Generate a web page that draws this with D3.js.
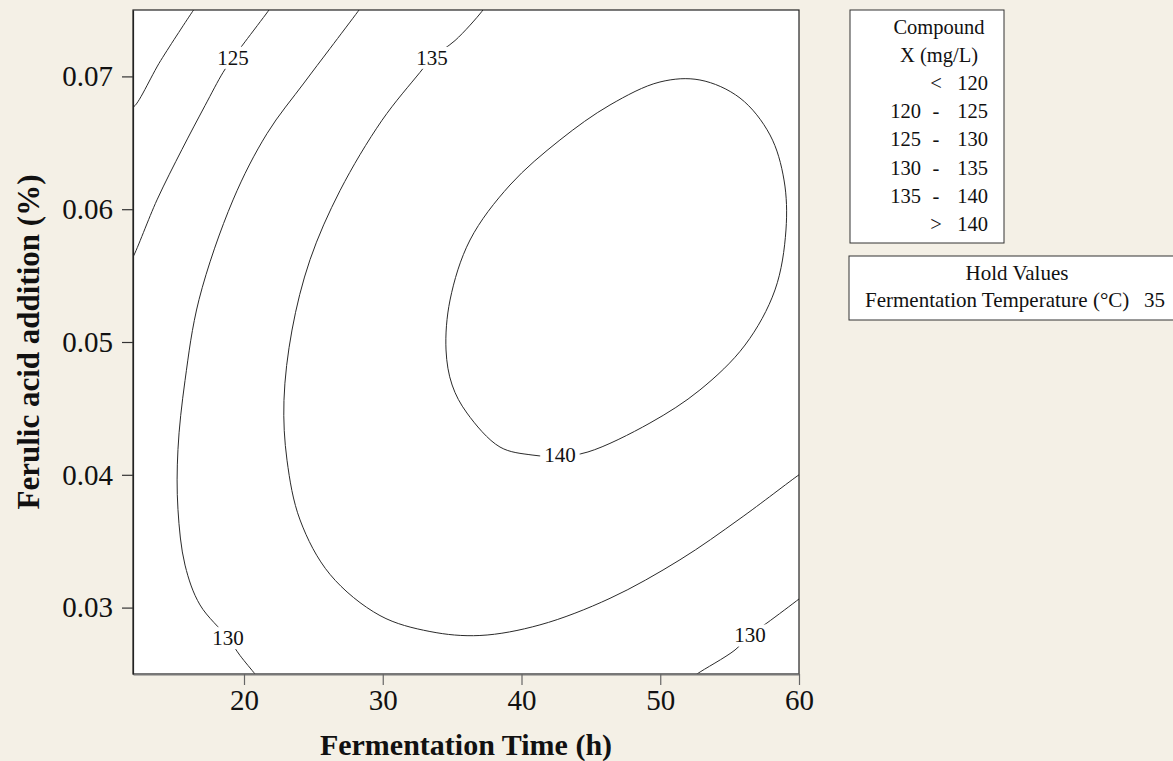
<!DOCTYPE html>
<html>
<head>
<meta charset="utf-8">
<script src="https://cdn.jsdelivr.net/npm/d3@7"></script>
<style>
  html, body { margin: 0; padding: 0; background: #f4f0e6; }
  svg { display: block; }
  text { font-family: "Liberation Serif", "Times New Roman", serif; fill: #111; }
</style>
</head>
<body>
<svg id="chart" width="1173" height="761"></svg>
<script>
// Axis ranges and ticks
const xDomain = [12, 60];
const yDomain = [0.025, 0.075];
const xTicks = [20, 30, 40, 50, 60];
const yTicks = [0.03, 0.04, 0.05, 0.06, 0.07];
const xTitle = "Fermentation Time (h)";
const yTitle = "Ferulic acid addition (%)";

// Contour lines of Compound X (mg/L): [time (h), ferulic acid (%)]
const contour120 = [[11.8, 0.0680], [12.0, 0.0677], [14.0, 0.0712], [16.3, 0.0749], [16.5, 0.0752]];
const contour125 = [[11.8, 0.0561], [12.0, 0.0564], [13.73, 0.0607], [15.53, 0.0645], [17.19, 0.0678],
  [18.49, 0.0703], [19.21, 0.0714], [20.07, 0.0726], [21.73, 0.0749], [22.0, 0.0753]];
const contour130Left = [[28.5, 0.0753], [28.22, 0.0749], [26.2, 0.0721], [24.32, 0.0695], [21.66, 0.0657],
  [19.21, 0.0607], [16.76, 0.0532], [15.75, 0.0471], [15.24, 0.0419], [15.24, 0.0374], [15.75, 0.0332],
  [16.83, 0.0302], [18.85, 0.0277], [19.71, 0.0264], [20.79, 0.0250], [21.0, 0.0247]];
const contour135 = [[37.4, 0.0753], [37.15, 0.0749], [35.21, 0.0727], [33.55, 0.0714], [32.68, 0.0703],
  [29.95, 0.0667], [26.92, 0.0614], [24.76, 0.0562], [23.46, 0.0509], [22.88, 0.0456], [23.1, 0.0411],
  [24.04, 0.0366], [26.2, 0.0325], [29.8, 0.0294], [33.4, 0.0282], [37.0, 0.0279], [41.33, 0.0287],
  [46.38, 0.0307], [51.42, 0.0336], [55.75, 0.0367], [60.0, 0.0400], [60.3, 0.0402]];
const contour140 = [[44.79, 0.04172], [49.26, 0.0439], [52.86, 0.04639], [56.11, 0.04977], [58.27, 0.05392],
  [59.06, 0.05843], [58.92, 0.0622], [57.91, 0.06559], [55.75, 0.06837], [52.86, 0.06973], [49.98, 0.06958],
  [46.38, 0.06785], [42.77, 0.06521], [39.17, 0.06182], [36.29, 0.05768], [34.85, 0.05316], [34.56, 0.0494],
  [35.0, 0.04676], [36.07, 0.04465], [38.45, 0.04209], [40.76, 0.04149], [42.77, 0.0414]];
const contour130Right = [[60.3, 0.0309], [60.0, 0.03065], [57.69, 0.02884], [56.47, 0.02794], [55.39, 0.02681],
  [52.65, 0.0250], [52.3, 0.0247]];

// Inline contour labels
const contourLabels = [
  { text: "125", x: 19.21, y: 0.0714 },
  { text: "135", x: 33.55, y: 0.0714 },
  { text: "140", x: 42.77, y: 0.0415 },
  { text: "130", x: 18.85, y: 0.0277 },
  { text: "130", x: 56.47, y: 0.0279 }
];

// Legend contents
const legendTitle = ["Compound", "X (mg/L)"];
const legendLow = ["", "120", "125", "130", "135", ""];
const legendSym = ["<", "-", "-", "-", "-", ">"];
const legendHigh = ["120", "125", "130", "135", "140", "140"];
const holdTitle = "Hold Values";
const holdName = "Fermentation Temperature (°C)";
const holdValue = "35";

const serif = '"Liberation Serif", "Times New Roman", serif';
const svg = d3.select("#chart");
const plot = { left: 133, right: 799, top: 10, bottom: 674 };

const x = d3.scaleLinear().domain(xDomain).range([plot.left, plot.right]);
const y = d3.scaleLinear().domain(yDomain).range([plot.bottom, plot.top]);

// Plot area
svg.append("rect")
  .attr("x", plot.left).attr("y", plot.top)
  .attr("width", plot.right - plot.left).attr("height", plot.bottom - plot.top)
  .attr("fill", "#fff");

svg.append("clipPath").attr("id", "plotClip")
  .append("rect")
  .attr("x", plot.left).attr("y", plot.top)
  .attr("width", plot.right - plot.left).attr("height", plot.bottom - plot.top);

const lines = svg.append("g").attr("clip-path", "url(#plotClip)");
const openLine = d3.line().x(d => x(d[0])).y(d => y(d[1])).curve(d3.curveCatmullRom.alpha(0.5));
const closedLine = d3.line().x(d => x(d[0])).y(d => y(d[1])).curve(d3.curveCatmullRomClosed.alpha(0.5));

[contour120, contour125, contour130Left, contour135, contour130Right].forEach(c => {
  lines.append("path").attr("d", openLine(c))
    .attr("fill", "none").attr("stroke", "#2a2a2a").attr("stroke-width", 1);
});
lines.append("path").attr("d", closedLine(contour140))
  .attr("fill", "none").attr("stroke", "#2a2a2a").attr("stroke-width", 1);

// Labels sit on a white patch that breaks the line
const labelG = svg.append("g");
contourLabels.forEach(l => {
  const g = labelG.append("g");
  const t = g.append("text")
    .attr("x", x(l.x)).attr("y", y(l.y))
    .attr("text-anchor", "middle").attr("dominant-baseline", "central")
    .style("font-family", serif).attr("font-size", 21).text(l.text);
  const bb = t.node().getBBox();
  g.insert("rect", "text")
    .attr("x", bb.x - 4).attr("y", bb.y + 1)
    .attr("width", bb.width + 8).attr("height", bb.height - 2)
    .attr("fill", "#fff");
});

// Frame
svg.append("rect")
  .attr("x", plot.left).attr("y", plot.top)
  .attr("width", plot.right - plot.left).attr("height", plot.bottom - plot.top)
  .attr("fill", "none").attr("stroke", "#222").attr("stroke-width", 1.2);

// X axis
const xAxis = svg.append("g").attr("transform", `translate(0,${plot.bottom})`)
  .call(d3.axisBottom(x).tickValues(xTicks).tickSizeInner(11).tickSizeOuter(0).tickPadding(4).tickFormat(d3.format("d")));
xAxis.attr("font-family", null).attr("font-size", null);
xAxis.select(".domain").attr("stroke", "#777").attr("stroke-width", 2);
xAxis.selectAll(".tick line").attr("stroke", "#666").attr("stroke-width", 1.2);
xAxis.selectAll(".tick text").style("font-family", serif).attr("font-size", 29).attr("fill", "#111");

// Y axis
const yAxis = svg.append("g").attr("transform", `translate(${plot.left},0)`)
  .call(d3.axisLeft(y).tickValues(yTicks).tickSizeInner(11).tickSizeOuter(0).tickPadding(9).tickFormat(d3.format(".2f")));
yAxis.attr("font-family", null).attr("font-size", null);
yAxis.select(".domain").attr("stroke", "#222").attr("stroke-width", 1.2);
yAxis.selectAll(".tick line").attr("stroke", "#333").attr("stroke-width", 1.2);
yAxis.selectAll(".tick text").style("font-family", serif).attr("font-size", 29).attr("fill", "#111");

// Axis titles
svg.append("text")
  .attr("x", (plot.left + plot.right) / 2).attr("y", 755)
  .attr("text-anchor", "middle").attr("font-size", 30).attr("font-weight", "bold")
  .text(xTitle);
svg.append("text")
  .attr("transform", `translate(39,${(plot.top + plot.bottom) / 2}) rotate(-90)`)
  .attr("text-anchor", "middle").attr("font-size", 31).attr("font-weight", "bold")
  .text(yTitle);

// Legend: contour levels
const lg = svg.append("g");
lg.append("rect").attr("x", 850).attr("y", 10).attr("width", 154).attr("height", 233)
  .attr("fill", "#fff").attr("stroke", "#333").attr("stroke-width", 1);
legendTitle.forEach((t, i) => {
  lg.append("text").attr("x", 939).attr("y", 34 + i * 28)
    .attr("text-anchor", "middle").attr("font-size", 20.5).text(t);
});
legendHigh.forEach((h, i) => {
  const by = 90 + i * 28.2;
  lg.append("text").attr("x", 921).attr("y", by).attr("text-anchor", "end").attr("font-size", 20.5).text(legendLow[i]);
  lg.append("text").attr("x", 936).attr("y", by).attr("text-anchor", "middle").attr("font-size", 20.5).text(legendSym[i]);
  lg.append("text").attr("x", 988).attr("y", by).attr("text-anchor", "end").attr("font-size", 20.5).text(h);
});

// Legend: hold values
const hg = svg.append("g");
hg.append("rect").attr("x", 849).attr("y", 256).attr("width", 340).attr("height", 64)
  .attr("fill", "#fff").attr("stroke", "#333").attr("stroke-width", 1);
hg.append("text").attr("x", 1017).attr("y", 280).attr("text-anchor", "middle").attr("font-size", 21).text(holdTitle);
hg.append("text").attr("x", 865).attr("y", 307).attr("font-size", 21).text(holdName);
hg.append("text").attr("x", 1165).attr("y", 307).attr("text-anchor", "end").attr("font-size", 21).text(holdValue);
</script>
</body>
</html>
